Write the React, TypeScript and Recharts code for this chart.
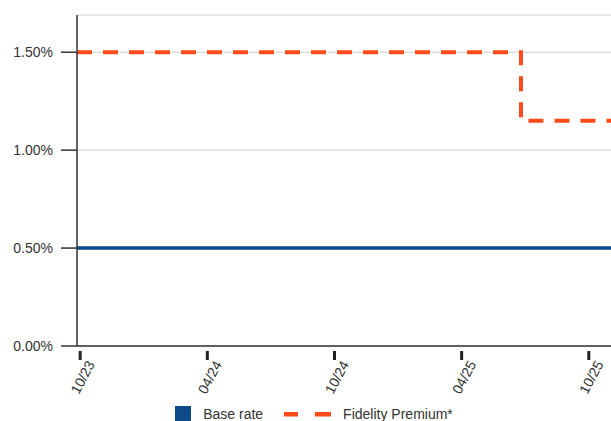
import React from 'react';
import {
  LineChart,
  Line,
  XAxis,
  YAxis,
  CartesianGrid,
  Legend,
} from 'recharts';

// months since 10/23
const months = [-0.15, 20.8, 25.85];
const baseRate = [0.5, 0.5, 0.5];
const fidelityPremium = [1.5, 1.15, 1.15];

const xTicks = [0, 6, 12, 18, 24];
const xTickLabels = ['10/23', '04/24', '10/24', '04/25', '10/25'];
const yTicks = [0, 0.5, 1, 1.5];

const data = months.map((t, i) => ({
  t,
  base: baseRate[i],
  fidelity: fidelityPremium[i],
}));

const FONT = '"Liberation Sans", Arial, sans-serif';
const BLUE = '#0d4a8a';
const ORANGE = '#ff4a1a';
const TEXT = '#333333';

function XTick(props: any) {
  const { x, y, payload } = props;
  const idx = xTicks.indexOf(payload.value);
  const label = idx >= 0 ? xTickLabels[idx] : '';
  return (
    <g>
      <rect x={x - 1.5} y={y + 5} width={3} height={9} fill="#222" />
      <text
        x={0}
        y={0}
        transform={`translate(${x + 15},${y + 18}) rotate(-62)`}
        textAnchor="end"
        fontSize={14}
        fontFamily={FONT}
        fill={TEXT}
      >
        {label}
      </text>
    </g>
  );
}

function renderLegend() {
  return (
    <div
      style={{
        display: 'flex',
        justifyContent: 'center',
        alignItems: 'center',
        fontFamily: FONT,
        fontSize: 14,
        color: TEXT,
        height: 20,
        paddingTop: 3,
      }}
    >
      <span style={{ display: 'inline-block', width: 16, height: 16, background: BLUE, marginRight: 12 }} />
      <span style={{ marginRight: 21 }}>Base rate</span>
      <svg width={47} height={6} style={{ marginRight: 12 }}>
        <rect x={0} y={1} width={14} height={4.5} fill={ORANGE} />
        <rect x={31} y={1} width={16} height={4.5} fill={ORANGE} />
      </svg>
      <span>Fidelity Premium*</span>
    </div>
  );
}

export default function App() {
  return (
    <div
      style={{
        position: 'fixed',
        left: 0,
        top: 0,
        width: 611,
        height: 421,
        overflow: 'hidden',
        background: '#fff',
      }}
    >
      <LineChart
        width={628}
        height={421}
        data={data}
        margin={{ top: 15, right: 0, left: 0, bottom: 0 }}
      >
        <CartesianGrid vertical={false} stroke="#cccccc" />
        <XAxis
          dataKey="t"
          type="number"
          domain={[-0.15, 25.85]}
          allowDataOverflow
          ticks={xTicks}
          tick={<XTick />}
          tickLine={false}
          tickSize={0}
          tickMargin={0}
          height={55}
          interval={0}
          axisLine={{ stroke: '#333', strokeWidth: 1.5 }}
        />
        <YAxis
          type="number"
          domain={[0, 1.69]}
          allowDataOverflow
          ticks={yTicks}
          width={77}
          tickSize={16}
          tickMargin={8}
          tickLine={{ stroke: '#333', strokeWidth: 1.5 }}
          axisLine={{ stroke: '#333', strokeWidth: 1.5 }}
          tickFormatter={(v: number) => `${v.toFixed(2)}%`}
          tick={{ fontSize: 14, fontFamily: FONT, fill: TEXT }}
        />
        <Legend verticalAlign="bottom" height={20} content={renderLegend} />
        <Line
          type="stepAfter"
          dataKey="fidelity"
          name="Fidelity Premium*"
          stroke={ORANGE}
          strokeWidth={4}
          strokeDasharray="15 11"
          dot={false}
          activeDot={false}
          isAnimationActive={false}
        />
        <Line
          type="stepAfter"
          dataKey="base"
          name="Base rate"
          stroke={BLUE}
          strokeWidth={3.5}
          dot={false}
          activeDot={false}
          isAnimationActive={false}
        />
      </LineChart>
    </div>
  );
}
